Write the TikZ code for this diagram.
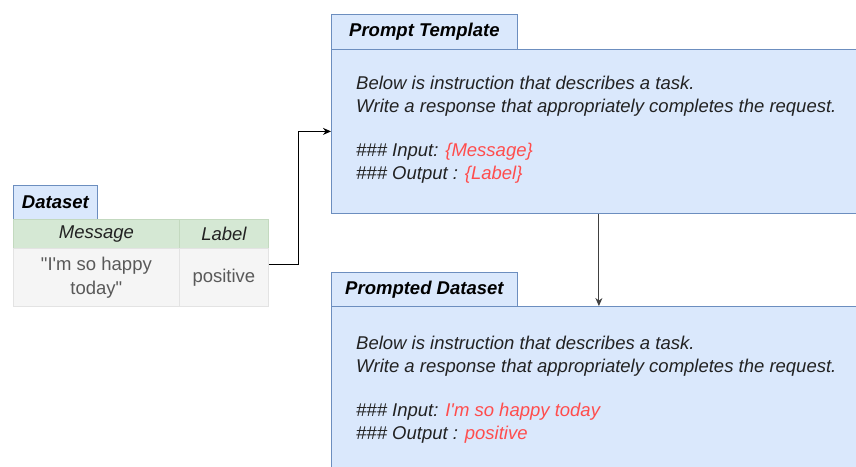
\documentclass[tikz,border=0pt]{standalone}
\usepackage{fontspec}
\setmainfont{Liberation Sans}[Ligatures=TeXOff]
\usetikzlibrary{arrows.meta}
\definecolor{bfill}{HTML}{DAE8FC}
\definecolor{bline}{HTML}{6C8EBF}
\definecolor{gfill}{HTML}{D5E8D4}
\definecolor{gline}{HTML}{C3D9BF}
\definecolor{wfill}{HTML}{F5F5F5}
\definecolor{wline}{HTML}{E3E3E3}
\definecolor{txt}{HTML}{222222}
\definecolor{red}{HTML}{FF4D4D}
\tikzset{
  tab/.style={draw=bline, fill=bfill, line width=0.8pt, anchor=north west, inner sep=0pt,
    font=\fontsize{18.5}{22}\selectfont\bfseries\itshape, text=black},
  bigbox/.style={draw=bline, fill=bfill, line width=0.8pt, anchor=north west, inner sep=0pt,
    minimum width=535pt},
  body/.style={anchor=north west, inner sep=0pt, align=left,
    font=\fontsize{18.5}{23}\selectfont\itshape, text=txt},
  hcell/.style={draw=gline, fill=gfill, line width=0.8pt, anchor=north west, inner sep=0pt,
    minimum height=29pt, font=\fontsize{18.5}{22}\selectfont\itshape, text=txt},
  bcell/.style={draw=wline, fill=wfill, line width=0.8pt, anchor=north west, inner sep=0pt,
    minimum height=58pt, align=center, font=\fontsize{18.5}{24}\selectfont, text=black!65},
  conn/.style={line width=0.9pt, -{Stealth[length=8pt,width=7pt]}}
}
\begin{document}
\begin{tikzpicture}[x=1pt,y=-1pt]
\useasboundingbox (0,0) rectangle (856,466);
\clip (0,0) rectangle (856,466);
% Dataset
\node[tab, minimum width=84pt, minimum height=34pt] (dstab) at (13,185) {Dataset};
\node[hcell, minimum width=166pt] (hmsg) at (13,219) {Message};
\node[hcell, minimum width=89pt] (hlab) at (179,219) {Label};
\node[bcell, minimum width=166pt] (bmsg) at (13,248) {"I'm so happy\\today"};
\node[bcell, minimum width=89pt] (blab) at (179,248) {positive};
\coordinate (tabright) at (268,264);
% Prompt Template
\node[bigbox, minimum height=164pt] (pt) at (331,49) {};
\node[tab, minimum width=186pt, minimum height=35pt] (pttab) at (331,14) {Prompt Template};
\node[body] (pttext) at (356,76) {Below is instruction that describes a task.\\
Write a response that appropriately completes the request.\\[21pt]
\#\#\# Input: \textcolor{red}{\{Message\}}\\
\#\#\# Output : \textcolor{red}{\{Label\}}};
% Prompted Dataset
\node[bigbox, minimum height=170pt] (pd) at (331,306) {};
\node[tab, minimum width=186pt, minimum height=34pt] (pdtab) at (331,272) {Prompted Dataset};
\node[body] (pdtext) at (356,336) {Below is instruction that describes a task.\\
Write a response that appropriately completes the request.\\[21pt]
\#\#\# Input: \textcolor{red}{I'm so happy today}\\
\#\#\# Output : \textcolor{red}{positive}};
% connectors
\draw[conn] (blab.east |- tabright) -- ++(30,0) |- (pt.west);
\draw[conn, draw=black!75] (pt.south) -- (pd.north);
\end{tikzpicture}
\end{document}
